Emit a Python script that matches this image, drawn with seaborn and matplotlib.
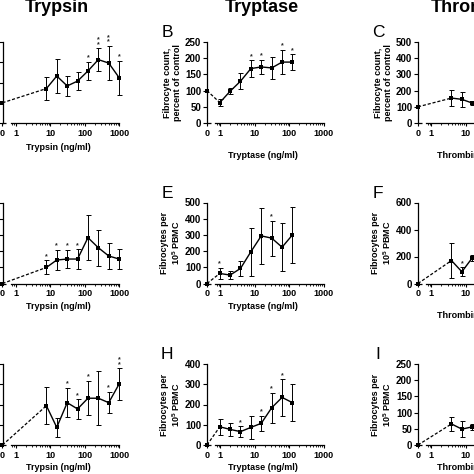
import matplotlib
matplotlib.use("Agg")
import matplotlib.pyplot as plt
import numpy as np
import seaborn as sns
from matplotlib.ticker import FixedLocator, FuncFormatter

# protease concentrations (ng/ml), 0 = untreated control
TRYPSIN_CONC = [0, 7.8, 15.6, 31.3, 62.5, 125, 250, 500, 1000]
TRYPTASE_CONC = [0, 0.98, 1.95, 3.9, 7.8, 15.6, 31.3, 62.5, 125]
THROMBIN_CONC = [0, 3.9, 7.8, 15.6]

# row 1: fibrocyte count, percent of control
A_MEAN = [100, 170, 232, 183, 207, 257, 313, 296, 224]
A_ERR = [0, 56, 82, 48, 44, 45, 55, 85, 84]
A_STARS = ["", "", "", "", "", "*", "**", "**", "*"]

B_MEAN = [100, 63, 98, 129, 168, 173, 170, 188, 188]
B_ERR = [0, 10, 10, 24, 25, 22, 33, 38, 24]
B_STARS = ["", "", "", "", "*", "*", "", "*", "*"]

C_MEAN = [100, 154, 146, 123]
C_ERR = [0, 50, 45, 10]
C_STARS = ["", "", "", ""]

# row 2: fibrocytes per 10^5 PBMC
D_MEAN = [0, 99, 145, 151, 151, 283, 221, 170, 151]
D_ERR = [0, 43, 62, 56, 59, 140, 112, 81, 62]
D_STARS = ["", "*", "*", "*", "*", "", "", "", ""]

E_MEAN = [0, 62, 52, 93, 196, 294, 280, 224, 300]
E_ERR = [0, 34, 27, 45, 148, 175, 108, 148, 174]
E_STARS = ["", "*", "", "", "", "", "*", "", ""]

F_MEAN = [0, 170, 87, 190]
F_ERR = [0, 128, 34, 20]
F_STARS = ["", "", "*", ""]

# row 3: fibrocytes per 10^5 PBMC
G_MEAN = [0, 194, 87, 209, 178, 231, 231, 209, 301]
G_ERR = [0, 90, 47, 72, 48, 85, 134, 53, 77]
G_STARS = ["", "", "", "*", "*", "*", "", "*", "**"]

H_MEAN = [0, 90, 77, 66, 87, 107, 184, 235, 209]
H_ERR = [0, 39, 33, 26, 55, 37, 74, 90, 90]
H_STARS = ["", "", "", "*", "", "*", "*", "*", ""]

I_MEAN = [0, 65, 49, 56]
I_ERR = [0, 22, 25, 10]
I_STARS = ["", "", "", ""]

# broken x axis: 0 sits a bit left of a log axis that starts just below 1
ZERO_POS = -0.38
BREAK = 0.72
LOG_BREAK = np.log10(BREAK)
SLOPE = (LOG_BREAK - ZERO_POS) / BREAK


def fwd(x):
    x = np.asarray(x, dtype=float)
    safe = np.where(x > BREAK, x, BREAK)
    return np.where(x > BREAK, np.log10(safe), ZERO_POS + SLOPE * x)


def inv(p):
    p = np.asarray(p, dtype=float)
    safe = np.where(p > LOG_BREAK, p, LOG_BREAK)
    return np.where(p > LOG_BREAK, 10 ** safe, (p - ZERO_POS) / SLOPE)


sns.set_theme(style="ticks")
plt.rcParams["font.family"] = ["Liberation Sans", "DejaVu Sans"]
plt.rcParams["font.weight"] = "bold"
plt.rcParams["axes.labelweight"] = "bold"
plt.rcParams["mathtext.fontset"] = "custom"
plt.rcParams["mathtext.rm"] = "Liberation Sans:bold"
plt.rcParams["mathtext.bf"] = "Liberation Sans:bold"
plt.rcParams["mathtext.default"] = "bf"

W = H = 474
AX_W, AX_H = 116.6, 81
COL_LEFT = [2.5, 207, 418]
ROW_TOP = [42, 202.5, 364]

fig = plt.figure(figsize=(4.74, 4.74), dpi=100)


def px_axes(col, row):
    left, top = COL_LEFT[col], ROW_TOP[row]
    return fig.add_axes([left / W, 1 - (top + AX_H) / H, AX_W / W, AX_H / H])


def draw_panel(ax, conc, mean, err, stars, ymax, ystep, xlabel, ylabel,
               letter, xlabel_gap, title=None):
    conc = np.asarray(conc, dtype=float)
    mean = np.asarray(mean, dtype=float)
    err = np.asarray(err, dtype=float)

    ax.errorbar(conc[1:], mean[1:], yerr=err[1:], fmt="none", ecolor="black",
                elinewidth=0.7, capsize=1.8, capthick=0.7, clip_on=False)
    sns.lineplot(x=conc[1:], y=mean[1:], ax=ax, color="black", lw=1,
                 marker="s", markersize=3.4, markeredgewidth=0,
                 estimator=None, sort=False, clip_on=False)
    # control to first dose crosses the axis break
    ax.plot(conc[:2], mean[:2], color="black", lw=0.9, ls=(0, (2.5, 1.5)),
            clip_on=False)
    ax.plot(conc[:1], mean[:1], "s", color="black", ms=3.4, mew=0,
            clip_on=False)
    for x, top, s in zip(conc, mean + err, stars):
        if s:
            ax.annotate("\n".join(s), (x, top), xytext=(0, 0.3),
                        textcoords="offset points", ha="center", va="bottom",
                        fontsize=5, linespacing=0.5)

    ax.set_xscale("function", functions=(fwd, inv))
    ax.set_xlim(0, 1000)
    ax.set_ylim(0, ymax)
    ax.set_yticks(np.arange(0, ymax + 1, ystep))
    ax.xaxis.set_major_locator(FixedLocator([0, 1, 10, 100, 1000]))
    ax.xaxis.set_major_formatter(FuncFormatter(lambda v, _: f"{v:g}"))
    minor = [m * 10.0 ** e for e in range(-1, 3) for m in range(2, 10)]
    ax.xaxis.set_minor_locator(FixedLocator([v for v in minor if BREAK < v < 1000]))

    sns.despine(ax=ax)
    for side in ("left", "bottom"):
        ax.spines[side].set_linewidth(0.9)
        ax.spines[side].set_color("black")
    ax.spines["bottom"].set_bounds(BREAK, 1000)
    ax.plot([0, 0.35], [0, 0], transform=ax.get_xaxis_transform(),
            color="black", lw=0.9, clip_on=False, solid_capstyle="butt")

    ax.tick_params(axis="y", length=3, width=0.8, pad=1.2, labelsize=7,
                   color="black", labelcolor="black")
    ax.tick_params(axis="x", which="major", length=2.5, width=0.8, pad=1.5,
                   labelsize=6.5, color="black", labelcolor="black")
    ax.tick_params(axis="x", which="minor", length=1.5, width=0.6,
                   color="black")

    ax.set_xlabel(xlabel, fontsize=6.5, color="black")
    ax.xaxis.set_label_coords(0.48, -(xlabel_gap - 4.5) / AX_H)
    ax.set_ylabel(ylabel, fontsize=6.5, color="black", linespacing=1.15)
    ax.yaxis.set_label_coords(-25 / AX_W, 0.5)

    ax.text(-40 / AX_W, 1 + 5 / AX_H, letter, transform=ax.transAxes,
            ha="center", va="baseline", fontsize=12.5, fontweight="normal",
            color="black")
    if title:
        ax.text(0.47, 1 + 30 / AX_H, title, transform=ax.transAxes,
                ha="center", va="baseline", fontsize=13, fontweight="bold",
                color="black")


COUNT_LABEL = "Fibrocyte count,\npercent of control"
PBMC_LABEL = "Fibrocytes per\n10$^5$ PBMC"

draw_panel(px_axes(0, 0), TRYPSIN_CONC, A_MEAN, A_ERR, A_STARS, 400, 100,
           "Trypsin (ng/ml)", COUNT_LABEL, "A", 24, title="Trypsin")
draw_panel(px_axes(1, 0), TRYPTASE_CONC, B_MEAN, B_ERR, B_STARS, 250, 50,
           "Tryptase (ng/ml)", COUNT_LABEL, "B", 32, title="Tryptase")
draw_panel(px_axes(2, 0), THROMBIN_CONC, C_MEAN, C_ERR, C_STARS, 500, 100,
           "Thrombin (ng/ml)", COUNT_LABEL, "C", 32, title="Thrombin")

draw_panel(px_axes(0, 1), TRYPSIN_CONC, D_MEAN, D_ERR, D_STARS, 500, 100,
           "Trypsin (ng/ml)", PBMC_LABEL, "D", 23)
draw_panel(px_axes(1, 1), TRYPTASE_CONC, E_MEAN, E_ERR, E_STARS, 500, 100,
           "Tryptase (ng/ml)", PBMC_LABEL, "E", 23)
draw_panel(px_axes(2, 1), THROMBIN_CONC, F_MEAN, F_ERR, F_STARS, 600, 200,
           "Thrombin (ng/ml)", PBMC_LABEL, "F", 32)

draw_panel(px_axes(0, 2), TRYPSIN_CONC, G_MEAN, G_ERR, G_STARS, 400, 100,
           "Trypsin (ng/ml)", PBMC_LABEL, "G", 22)
draw_panel(px_axes(1, 2), TRYPTASE_CONC, H_MEAN, H_ERR, H_STARS, 400, 100,
           "Tryptase (ng/ml)", PBMC_LABEL, "H", 22)
draw_panel(px_axes(2, 2), THROMBIN_CONC, I_MEAN, I_ERR, I_STARS, 250, 50,
           "Thrombin (ng/ml)", PBMC_LABEL, "I", 22)

fig.savefig("out.png", dpi=100, facecolor="white")
